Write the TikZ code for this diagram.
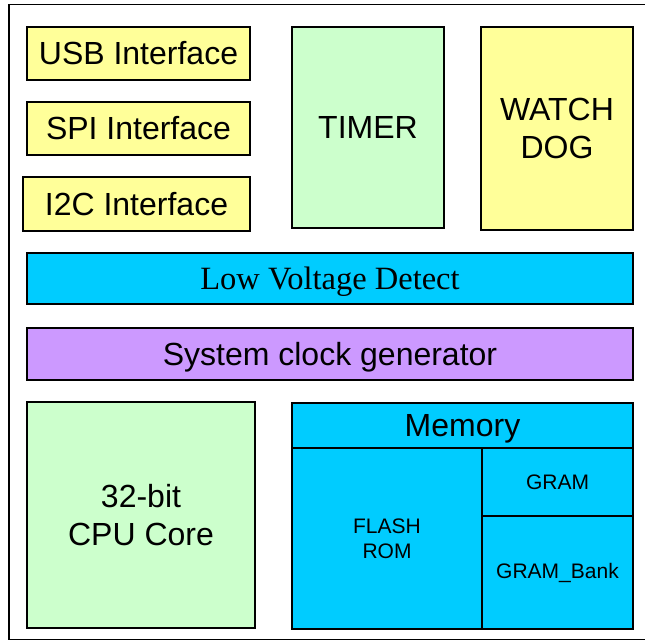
\documentclass[tikz,border=0pt]{standalone}
\usepackage{fontspec}
\setmainfont{Liberation Sans}
\newfontfamily\timesfont{Liberation Serif}
\usepackage{tikz}
\definecolor{ylw}{RGB}{255,255,153}
\definecolor{grn}{RGB}{204,255,204}
\definecolor{cyn}{RGB}{0,204,255}
\definecolor{prp}{RGB}{204,153,255}
\tikzset{blk/.style={draw, line width=1.1pt, inner sep=0pt, align=center},
  big/.style={font=\fontsize{32}{38}\selectfont},
  small/.style={font=\fontsize{21}{25}\selectfont}}

\begin{document}
\begin{tikzpicture}[x=1pt,y=-1pt]
\useasboundingbox (0,0) rectangle (645,642);
\draw [line width=1.1pt] (645,4.5) -- (9,4.5) -- (9,639.5) -- (645,639.5);

% interfaces
\node[blk, big, fill=ylw, minimum width=223, minimum height=53] (usb) at (138.5,53.5) {USB Interface};
\node[blk, big, fill=ylw, minimum width=223, minimum height=53] (spi) at (138.5,128.5) {SPI Interface};
\node[blk, big, fill=ylw, minimum width=227, minimum height=54] (iic) at (136.5,204) {I2C Interface};

\node[blk, big, fill=grn, minimum width=152, minimum height=201] (timer) at (368,127.5) {TIMER};
\node[blk, big, fill=ylw, minimum width=152, minimum height=203] (wdog) at (557,128.5) {WATCH\\DOG};

\node[blk, fill=cyn, minimum width=606, minimum height=51, text depth=0pt, font=\timesfont\fontsize{32.5}{38}\selectfont] (lvd) at (330,278.5) {Low Voltage Detect};
\node[blk, big, fill=prp, minimum width=606, minimum height=52, text depth=0pt] (sysclk) at (330,354) {System clock generator};

\node[blk, big, fill=grn, minimum width=228, minimum height=226] (cpu) at (141,515) {32-bit\\CPU Core};

% memory
\node[blk, big, fill=cyn, minimum width=341, minimum height=45, text depth=0pt] (mem) at (462.5,425.5) {Memory};
\node[blk, small, fill=cyn, minimum width=190, minimum height=181] (flash) at (387,538.5) {FLASH\\ROM};
\node[blk, small, fill=cyn, minimum width=151, minimum height=68] (gram) at (557.5,482) {GRAM};
\node[blk, small, fill=cyn, minimum width=151, minimum height=113] (bank) at (557.5,572.5) {GRAM\_Bank};

\end{tikzpicture}
\end{document}
